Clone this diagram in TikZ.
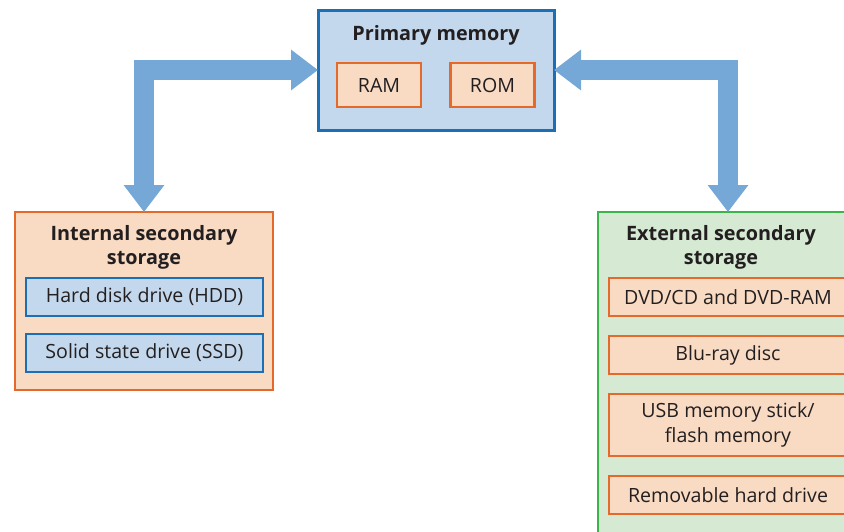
\documentclass[tikz,border=0pt]{standalone}
\usepackage{fontspec}
\setmainfont{Open Sans}
\usetikzlibrary{arrows.meta}
\definecolor{MemInk}{HTML}{231F20}
\definecolor{MemArrow}{HTML}{75A8D6}
\definecolor{MemBlue}{HTML}{1C6FB5}
\definecolor{MemBlueFill}{HTML}{C3D8EC}
\definecolor{MemOrange}{HTML}{E4692A}
\definecolor{MemOrangeFill}{HTML}{F9DBC4}
\definecolor{MemGreen}{HTML}{3BB54A}
\definecolor{MemGreenFill}{HTML}{D5E9D3}
\tikzset{
    mem/diagram/.style={
        x=0.5pt, y=-0.5pt,
        font=\fontsize{9.8pt}{12.5pt}\selectfont,
        text=MemInk,
        every node/.style={inner sep=0pt, outer sep=0pt}
    },
    mem/title/.style={font=\fontsize{9.9pt}{12pt}\selectfont\bfseries, align=center},
    mem/primary/.style={draw=MemBlue, fill=MemBlueFill, line width=1.5pt},
    mem/internal/.style={draw=MemOrange, fill=MemOrangeFill, line width=1.4pt},
    mem/external/.style={draw=MemGreen, fill=MemGreenFill, line width=1.1pt},
    mem/chip/.style={draw=MemOrange, fill=MemOrangeFill, line width=1.4pt,
        minimum width=42pt, minimum height=22pt},
    mem/drive/.style={draw=MemBlue, fill=MemBlueFill, line width=1.4pt,
        minimum width=118.5pt, minimum height=19pt},
    mem/media/.style={draw=MemOrange, fill=MemOrangeFill, line width=1.4pt,
        minimum width=119pt, minimum height=19pt, align=center},
    mem/link/.style={
        draw=MemArrow, line width=10pt,
        {Triangle[length=13.5pt, width=19.5pt]}-{Triangle[length=13.5pt, width=19.5pt]}
    }
}
\begin{document}
\begin{tikzpicture}[mem/diagram]
    \useasboundingbox (0,0) rectangle (844,531);
    \clip (0,0) rectangle (844,531);
    % primary memory
    \node[mem/primary, minimum width=118pt, minimum height=60pt] (primary) at (436,70) {};
    \node[mem/title] (primarytitle) at (436,35) {Primary memory};
    \node[mem/chip] (ram) at (379,85) {RAM};
    \node[mem/chip] (rom) at (492.5,85) {ROM};
    % internal secondary storage
    \node[mem/internal, minimum width=129pt, minimum height=89pt] (internal) at (144,301) {};
    \node[mem/title] (internaltitle) at (144,247) {Internal secondary\\storage};
    \node[mem/drive] (hdd) at (144.5,297) {Hard disk drive (HDD)};
    \node[mem/drive] (ssd) at (144.5,353) {Solid state drive (SSD)};
    % external secondary storage (runs off the page)
    \node[mem/external, minimum width=130pt, minimum height=174pt] (external) at (728,386) {};
    \node[mem/title] (externaltitle) at (721,247) {External secondary\\storage};
    \node[mem/media] (dvd) at (728,297) {DVD/CD and DVD-RAM};
    \node[mem/media] (bluray) at (728,355) {Blu-ray disc};
    \node[mem/media, minimum height=31pt] (usb) at (728,425) {USB memory stick/\\flash memory};
    \node[mem/media] (removable) at (728,495) {Removable hard drive};
    % two-way transfer arrows
    \draw[mem/link] (primary.west) -| (internal.north);
    \draw[mem/link] (primary.east) -| (external.north);
\end{tikzpicture}
\end{document}
